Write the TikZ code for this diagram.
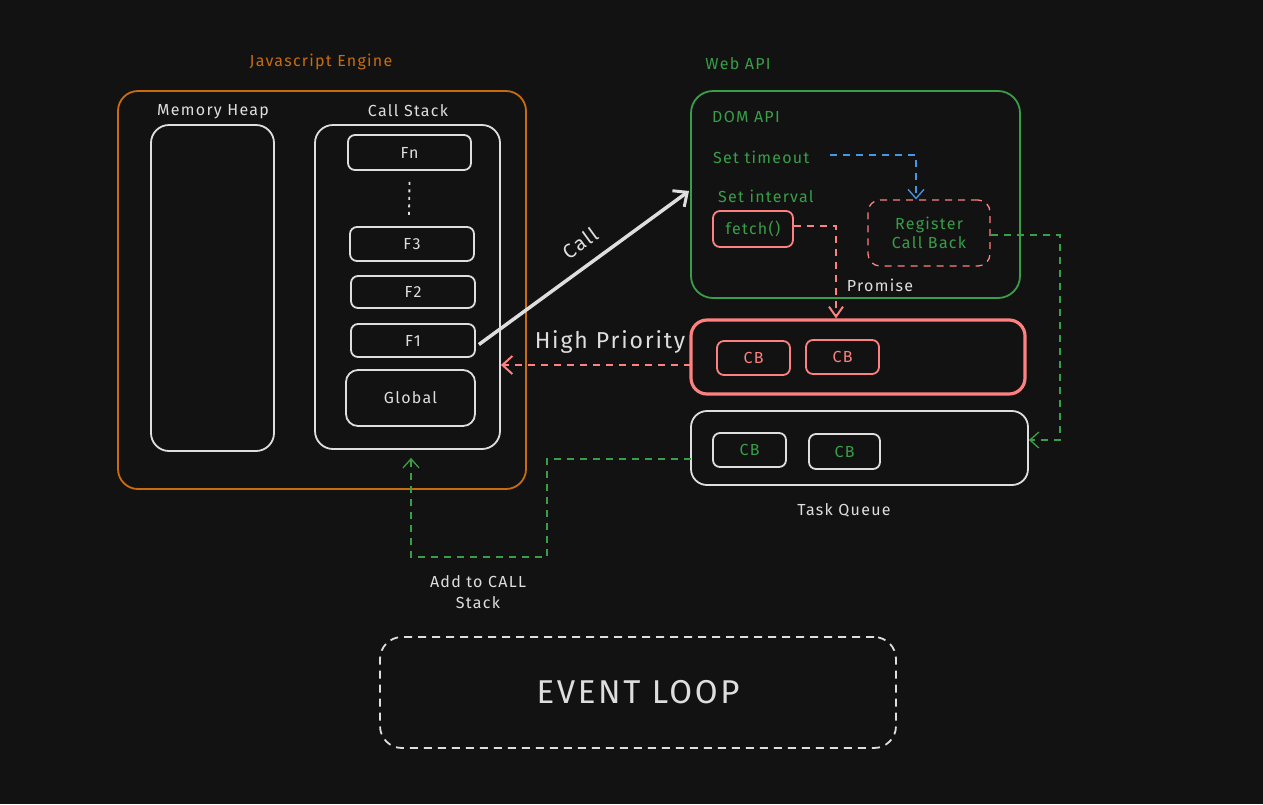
\documentclass[tikz,border=0pt]{standalone}
\usepackage{fontspec}
\setmainfont{Fira Sans}[LetterSpace=8]
\usetikzlibrary{arrows.meta,calc}
\definecolor{bg}{RGB}{18,18,18}
\definecolor{orng}{RGB}{200,108,14}
\definecolor{grn}{RGB}{56,158,72}
\definecolor{pnk}{RGB}{255,128,128}
\definecolor{wht}{RGB}{222,222,222}
\definecolor{blu}{RGB}{74,150,230}
\tikzset{
  box/.style={draw=wht, line width=1.8pt, rounded corners=12pt, inner sep=0pt, text=wht},
  small/.style={box, rounded corners=7pt, font=\fontsize{16}{18}\selectfont},
  lbl/.style={inner sep=0pt, font=\fontsize{16}{18}\selectfont},
  dsh/.style={dash pattern=on 7pt off 6pt, line width=1.3pt},
  tip/.style={-{Straight Barb[length=9pt,width=16pt,line width=1.3pt]}},
}
\begin{document}
\begin{tikzpicture}[x=1pt,y=-1pt]
\fill[bg] (0,0) rectangle (1263,804);
\useasboundingbox (0,0) rectangle (1263,804);

% Javascript engine
\node[box, draw=orng, rounded corners=20pt, minimum width=408, minimum height=398] (js) at (322,290) {};
\node[lbl, text=orng] (jsl) at (321,62) {Javascript Engine};
\node[box, rounded corners=18pt, minimum width=123, minimum height=326] (heap) at (212.5,288) {};
\node[lbl, text=wht] (heapl) at (213,112) {Memory Heap};
\node[box, rounded corners=18pt, minimum width=185, minimum height=324] (cs) at (407.5,287) {};
\node[lbl, text=wht] (csl) at (408,111) {Call Stack};
\node[small, minimum width=123, minimum height=35] (fn) at (409.5,152.5) {Fn};
\node[small, minimum width=124, minimum height=34] (f3) at (412,244) {F3};
\node[small, minimum width=124, minimum height=32] (f2) at (413,292) {F2};
\node[small, minimum width=124, minimum height=33] (f1) at (413,340.5) {F1};
\node[small, rounded corners=12pt, minimum width=129, minimum height=56] (glob) at (410.5,398) {Global};
\draw[wht, line width=1.8pt, dash pattern=on 3pt off 4.5pt] (fn.south) ++(0,11) coordinate (d1) -- ($(f3.north)+(-3,-11)$) coordinate (d2);

% Web API
\node[lbl, text=grn] (webl) at (738,64) {Web API};
\node[box, draw=grn, rounded corners=22pt, minimum width=329, minimum height=207] (web) at (855.5,194.5) {};
\node[lbl, text=grn, anchor=west] (dom) at (712,117) {DOM API};
\node[lbl, text=grn, anchor=west] (sto) at (713,157) {Set timeout};
\node[lbl, text=grn, anchor=west] (sin) at (718,196) {Set interval};
\node[small, draw=pnk, text=grn, minimum width=80, minimum height=36] (fetch) at (753,229) {fetch()};
\node[small, draw=pnk, dash pattern=on 7pt off 6pt, line width=1.3pt, rounded corners=12pt, minimum width=122, minimum height=66, text=grn, align=center, font=\fontsize{16}{19}\selectfont] (reg) at (929,233) {Register\\Call Back};
\node[lbl, text=wht] (prom) at (880,285) {Promise};

% Microtask queue
\node[box, draw=pnk, line width=3.2pt, rounded corners=16pt, minimum width=334, minimum height=74] (micro) at (858,357) {};
\node[small, draw=pnk, text=pnk, minimum width=73, minimum height=34] (cb1) at (753.5,358) {CB};
\node[small, draw=pnk, text=pnk, minimum width=73, minimum height=34] (cb2) at (842.5,357) {CB};

% Task queue
\node[box, rounded corners=16pt, minimum width=337, minimum height=74] (tq) at (859.5,448) {};
\node[small, text=grn, minimum width=73, minimum height=34] (cb3) at (749.5,450) {CB};
\node[small, text=grn, minimum width=71, minimum height=35] (cb4) at (844.5,451.5) {CB};
\node[lbl, text=wht] (tql) at (844,510) {Task Queue};

% Event loop
\node[box, dash pattern=on 8pt off 6pt, rounded corners=22pt, minimum width=516, minimum height=111, font=\fontsize{33}{36}\selectfont] (el) at (638,692.5) {EVENT LOOP};
\node[lbl, text=wht, align=center, font=\fontsize{16}{21}\selectfont] (add) at (478,592) {Add to CALL\\Stack};

% Call arrow
\coordinate (callend) at (689,191);
\draw[wht, line width=3.5pt, -{Straight Barb[length=11pt,width=20pt,line width=3pt]}] ($(f1.east)+(3,4)$) -- (callend);
\node[lbl, text=wht, rotate=36, font=\fontsize{20}{22}\selectfont] (calll) at (580,243) {Call};

% High priority
\coordinate (hp1) at (691,365);
\draw[pnk, line width=2pt, dash pattern=on 7pt off 6pt, -{Straight Barb[length=10pt,width=18pt,line width=2pt]}] (hp1) -- (hp1 -| cs.east);
\node[lbl, text=wht, font=\fontsize{23}{25}\selectfont] (hpl) at (610,342) {High Priority};

% Set timeout -> Register
\coordinate (st1) at (830,155);
\coordinate (st2) at (916,155);
\draw[blu, dsh, tip] (st1) -- (st2) -- (st2 |- reg.north);

% fetch -> microtask
\coordinate (fe2) at (836,226);
\draw[pnk, line width=2pt, dash pattern=on 7pt off 6pt, -{Straight Barb[length=10pt,width=14pt,line width=2pt]}] (fetch.east |- fe2) -- (fe2) -- (fe2 |- micro.north);

% Register -> task queue
\coordinate (rg2) at (1060,235);
\coordinate (rg3) at (1060,440);
\draw[grn, dsh, tip] (reg.east |- rg2) -- (rg2) -- (rg3) -- (tq.east |- rg3);

% task queue -> call stack
\coordinate (tq1) at (691,459);
\coordinate (tq2) at (547,459);
\coordinate (tq3) at (547,557);
\coordinate (tq4) at (411,557);
\draw[grn, dsh, tip] (tq1) -- (tq2) -- (tq3) -- (tq4) -- ($(tq4 |- cs.south)+(0,8)$);
\end{tikzpicture}
\end{document}
